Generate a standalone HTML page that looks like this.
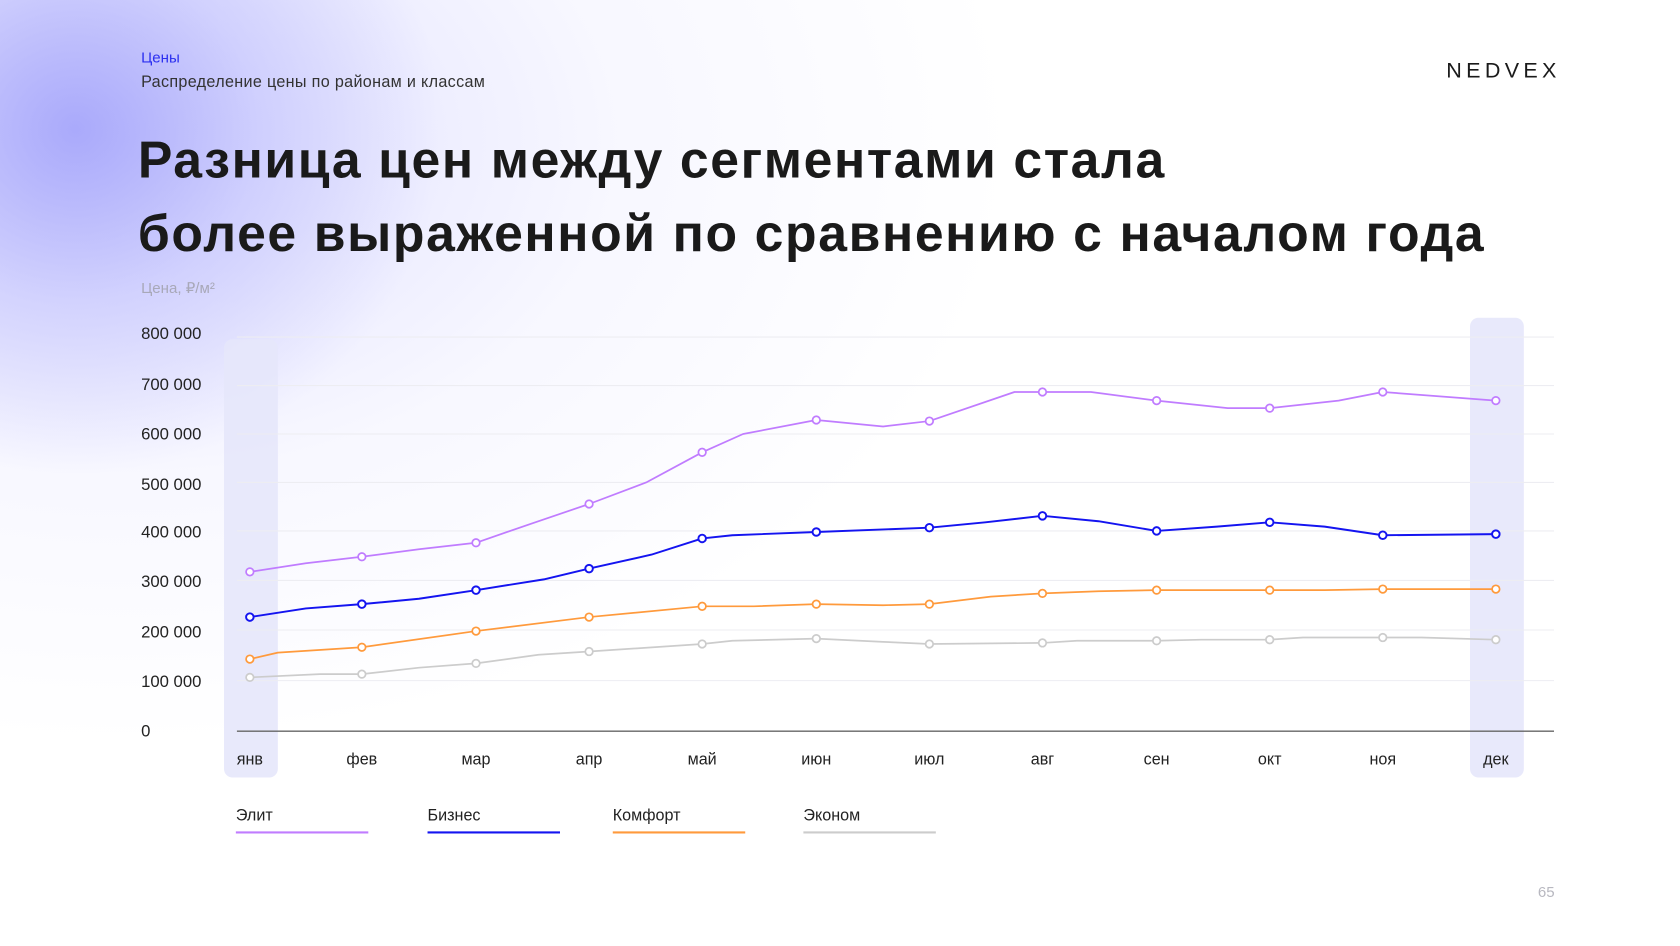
<!DOCTYPE html>
<html><head><meta charset="utf-8"><style>
html,body{margin:0;padding:0;width:1680px;height:945px;overflow:hidden;background:#fff}
#s{position:absolute;left:0;top:0;width:1560px;height:877.5px;transform:scale(1.076923);transform-origin:0 0;font-family:"Liberation Sans",sans-serif;
background:
radial-gradient(ellipse 340px 320px at 70px 120px, rgba(160,160,250,0.85), rgba(180,180,252,0.45) 50%, rgba(255,255,255,0) 100%),
radial-gradient(ellipse 820px 560px at 120px 130px, rgba(200,200,255,0.6), rgba(230,230,255,0.3) 55%, rgba(255,255,255,0) 100%),#fff;}
.t{position:absolute;white-space:nowrap}
</style></head><body><div id="s">
<div class="t" style="left:131px;top:45px;font-size:14px;color:#2b2ff0">Цены</div>
<div class="t" style="left:131px;top:68px;font-size:15px;letter-spacing:0.3px;color:#333">Распределение цены по районам и классам</div>
<div class="t" style="left:1343px;top:55px;font-size:20px;letter-spacing:4px;color:#1a1a1a">NEDVEX</div>
<div class="t" style="left:128px;top:116px;font-size:48px;letter-spacing:1.5px;font-weight:bold;color:#1a1a1a;line-height:68px">Разница цен между сегментами стала<br>более выраженной по сравнению с началом года</div>
<div class="t" style="left:131px;top:259px;font-size:14px;color:#a8a8b8">Цена, ₽/м²</div>
<svg class="t" style="left:0;top:0" width="1560" height="878" viewBox="0 0 1560 878">
<rect x="208" y="315" width="50" height="407" rx="8" fill="#e6e7fb" opacity="0.9"/>
<rect x="1365" y="295" width="50" height="427" rx="8" fill="#e6e7fb" opacity="0.9"/>
<g stroke="#ededf2" stroke-width="1">
<line x1="220" x2="1443" y1="313" y2="313"/><line x1="220" x2="1443" y1="358" y2="358"/><line x1="220" x2="1443" y1="403" y2="403"/><line x1="220" x2="1443" y1="448" y2="448"/><line x1="220" x2="1443" y1="493" y2="493"/><line x1="220" x2="1443" y1="539" y2="539"/><line x1="220" x2="1443" y1="585" y2="585"/><line x1="220" x2="1443" y1="632" y2="632"/></g>
<line x1="220" x2="1443" y1="679" y2="679" stroke="#666" stroke-width="1.3"/>
<g font-size="15.5" fill="#222">
<text x="131" y="315">800 000</text><text x="131" y="362">700 000</text><text x="131" y="408">600 000</text><text x="131" y="455">500 000</text><text x="131" y="499">400 000</text><text x="131" y="545">300 000</text><text x="131" y="592">200 000</text><text x="131" y="638">100 000</text><text x="131" y="684">0</text>
</g>
<g font-size="15" fill="#222" text-anchor="middle">
<text x="232" y="710">янв</text><text x="336" y="710">фев</text><text x="442" y="710">мар</text><text x="547" y="710">апр</text><text x="652" y="710">май</text><text x="758" y="710">июн</text><text x="863" y="710">июл</text><text x="968" y="710">авг</text><text x="1074" y="710">сен</text><text x="1179" y="710">окт</text><text x="1284" y="710">ноя</text><text x="1389" y="710">дек</text>
</g>
<g fill="none" stroke-width="1.6" stroke-linejoin="round">
<polyline stroke="#cccccc" points="232,629 297,626 336,626 389,620 442,616 500,608 547,605 652,598 680,595 758,593 820,596 863,598 968,597 1000,595 1074,595 1115,594 1179,594 1210,592 1284,592 1320,592 1389,594"/>
<polyline stroke="#ff9a3c" points="232,612 258,606 336,601 442,586 547,573 652,563 700,563 758,561 820,562 863,561 920,554 968,551 1020,549 1074,548 1179,548 1230,548 1284,547 1389,547"/>
<polyline stroke="#1414f0" stroke-width="1.8" points="232,573 284,565 336,561 389,556 442,548 505,538 547,528 605,515 652,500 680,497 758,494 863,490 915,485 968,479 1020,484 1074,493 1130,489 1179,485 1230,489 1284,497 1389,496"/>
<polyline stroke="#c07cff" points="232,531 284,523 336,517 389,510 442,504 494,486 547,468 600,448 652,420 690,403 758,390 820,396 863,391 942,364 968,364 1013,364 1074,372 1140,379 1179,379 1243,372 1284,364 1389,372"/>
</g>
<g fill="#fff" stroke-width="1.6">
<g stroke="#cccccc"><circle cx="232" cy="629" r="3.5"/><circle cx="336" cy="626" r="3.5"/><circle cx="442" cy="616" r="3.5"/><circle cx="547" cy="605" r="3.5"/><circle cx="652" cy="598" r="3.5"/><circle cx="758" cy="593" r="3.5"/><circle cx="863" cy="598" r="3.5"/><circle cx="968" cy="597" r="3.5"/><circle cx="1074" cy="595" r="3.5"/><circle cx="1179" cy="594" r="3.5"/><circle cx="1284" cy="592" r="3.5"/><circle cx="1389" cy="594" r="3.5"/></g>
<g stroke="#ff9a3c"><circle cx="232" cy="612" r="3.5"/><circle cx="336" cy="601" r="3.5"/><circle cx="442" cy="586" r="3.5"/><circle cx="547" cy="573" r="3.5"/><circle cx="652" cy="563" r="3.5"/><circle cx="758" cy="561" r="3.5"/><circle cx="863" cy="561" r="3.5"/><circle cx="968" cy="551" r="3.5"/><circle cx="1074" cy="548" r="3.5"/><circle cx="1179" cy="548" r="3.5"/><circle cx="1284" cy="547" r="3.5"/><circle cx="1389" cy="547" r="3.5"/></g>
<g stroke="#1414f0" stroke-width="1.8"><circle cx="232" cy="573" r="3.5"/><circle cx="336" cy="561" r="3.5"/><circle cx="442" cy="548" r="3.5"/><circle cx="547" cy="528" r="3.5"/><circle cx="652" cy="500" r="3.5"/><circle cx="758" cy="494" r="3.5"/><circle cx="863" cy="490" r="3.5"/><circle cx="968" cy="479" r="3.5"/><circle cx="1074" cy="493" r="3.5"/><circle cx="1179" cy="485" r="3.5"/><circle cx="1284" cy="497" r="3.5"/><circle cx="1389" cy="496" r="3.5"/></g>
<g stroke="#c07cff"><circle cx="232" cy="531" r="3.5"/><circle cx="336" cy="517" r="3.5"/><circle cx="442" cy="504" r="3.5"/><circle cx="547" cy="468" r="3.5"/><circle cx="652" cy="420" r="3.5"/><circle cx="758" cy="390" r="3.5"/><circle cx="863" cy="391" r="3.5"/><circle cx="968" cy="364" r="3.5"/><circle cx="1074" cy="372" r="3.5"/><circle cx="1179" cy="379" r="3.5"/><circle cx="1284" cy="364" r="3.5"/><circle cx="1389" cy="372" r="3.5"/></g>
</g>
<g font-size="15" fill="#222">
<text x="219" y="762">Элит</text><text x="397" y="762">Бизнес</text><text x="569" y="762">Комфорт</text><text x="746" y="762">Эконом</text></g>
<line x1="219" x2="342" y1="773" y2="773" stroke="#c07cff" stroke-width="2"/>
<line x1="397" x2="520" y1="773" y2="773" stroke="#1414f0" stroke-width="2"/>
<line x1="569" x2="692" y1="773" y2="773" stroke="#ff9a3c" stroke-width="2"/>
<line x1="746" x2="869" y1="773" y2="773" stroke="#cccccc" stroke-width="2"/>
<text x="1428" y="833" font-size="14" fill="#b8b8c0">65</text>
</svg>
</div></body></html>
